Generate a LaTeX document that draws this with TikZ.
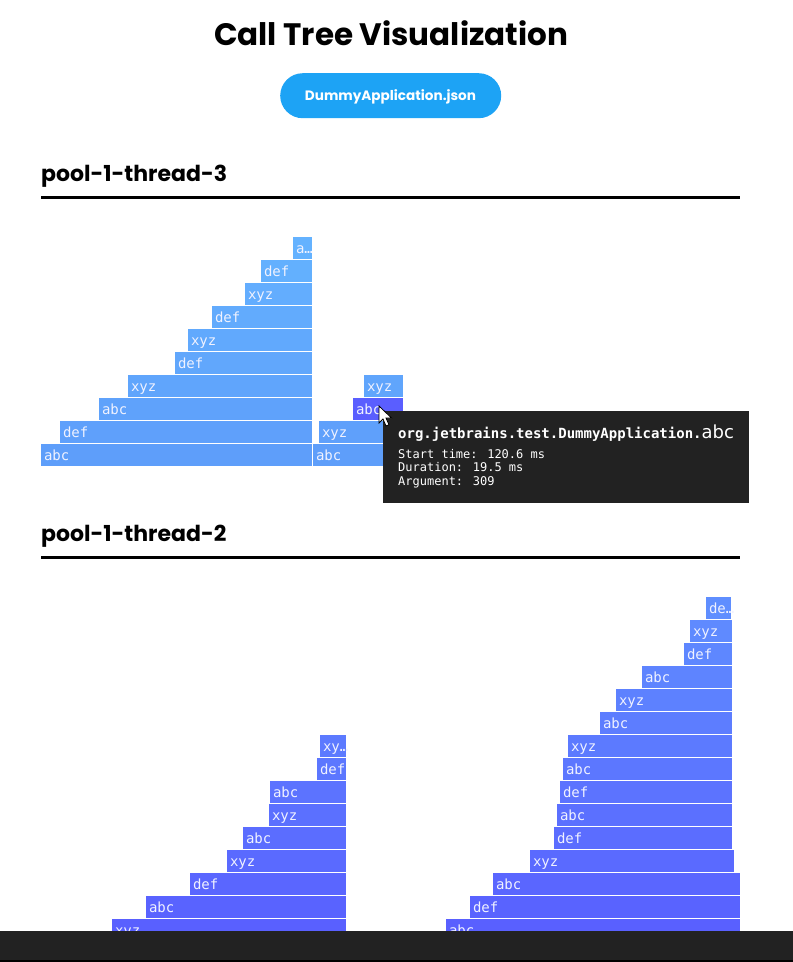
\documentclass[tikz,border=0pt]{standalone}
\usepackage{fontspec}
\newfontfamily\monofont{DejaVu Sans Mono}
\newfontfamily\tipsans{DejaVu Sans}
\newfontfamily\headfont{Poppins}
\definecolor{tA}{RGB}{100,178,255}
\definecolor{bA}{RGB}{94,158,250}
\definecolor{tB}{RGB}{95,142,255}
\definecolor{bB}{RGB}{89,96,255}
\definecolor{hiC}{RGB}{90,94,255}
\definecolor{darkbg}{RGB}{34,34,34}
\definecolor{btnC}{RGB}{29,163,245}
\definecolor{lblC}{RGB}{240,242,255}
\tikzset{
  barnode/.style={inner sep=0pt, outer sep=0pt, anchor=north west, text=lblC,
    font=\monofont\fontsize{14}{14}\selectfont},
  headtxt/.style={inner sep=0pt, anchor=base west, font=\headfont\bfseries\fontsize{22}{22}\selectfont},
  rulestyle/.style={line width=3pt, black},
  tiptxt/.style={inner sep=0pt, anchor=base west, text=white, font=\monofont\fontsize{12}{12}\selectfont},
}
\newcommand\barlabel[2]{\hbox to #1pt{\vrule height 16pt depth 6pt width 0pt\hskip3pt #2\hfil}}
\begin{document}
\begin{tikzpicture}[x=1pt,y=-1pt]
\useasboundingbox (0,0) rectangle (793,962);
\fill[white] (0,0) rectangle (793,962);
% title
\node[inner sep=0pt, anchor=base, font=\headfont\bfseries\fontsize{31}{31}\selectfont] (title) at (391,45.7) {Call Tree Visualization};
\node[fill=btnC, rounded corners=22.5pt, minimum width=221pt, minimum height=45pt, inner sep=0pt, anchor=north west] (btn) at (280,73) {};
\node[inner sep=0pt, anchor=base, text=white, font=\headfont\bfseries\fontsize{13.6}{13.6}\selectfont] (btntxt) at (390.5,100.7) {DummyApplication.json};
% section 1
\node[headtxt] (h1) at (41,181) {pool-1-thread-3};
\coordinate (r1a) at (41,197); \coordinate (r1b) at (740,197);
\draw[rulestyle] (r1a) -- (r1b);
\foreach \nm/\xa/\xb/\r/\t in {
  a0/41/312/0/abc, a1/60/312/1/def, a2/99/312/2/abc, a3/128/312/3/xyz, a4/175/312/4/def,
  a5/188/312/5/xyz, a6/212/312/6/def, a7/245/312/7/xyz, a8/261/312/8/def, a9/293/312/9/a…,
  b0/313/403/0/abc, b1/319/403/1/xyz, b3/364/403/3/xyz} {
  \pgfmathsetmacro\w{\xb-\xa}
  \pgfmathtruncatemacro\pp{\r*100/9}
  \node[barnode, fill=tA!\pp!bA] (\nm) at (\xa,{444-23*\r}) {\barlabel{\w}{\t}};
}
\node[barnode, fill=hiC] (b2) at (353,398) {\barlabel{50}{abc}};
% section 2
\node[headtxt] (h2) at (41,541) {pool-1-thread-2};
\coordinate (r2a) at (41,557); \coordinate (r2b) at (740,557);
\draw[rulestyle] (r2a) -- (r2b);
\foreach \nm/\xa/\xb/\r/\t in {
  c0/112/346/0/xyz, c1/146/346/1/abc, c2/190/346/2/def, c3/227/346/3/xyz, c4/243/346/4/abc,
  c5/269/346/5/xyz, c6/270/346/6/abc, c7/317/346/7/def, c8/320/346/8/xy…,
  d0/446/740/0/abc, d1/470/740/1/def, d2/493/740/2/abc, d3/530/734/3/xyz, d4/554/732/4/def,
  d5/557/732/5/abc, d6/560/732/6/def, d7/563/732/7/abc, d8/568/732/8/xyz, d9/600/732/9/abc,
  d10/616/732/10/xyz, d11/642/732/11/abc, d12/684/732/12/def, d13/690/732/13/xyz, d14/706/731/14/de…} {
  \pgfmathsetmacro\w{\xb-\xa}
  \pgfmathtruncatemacro\pp{\r*100/14}
  \node[barnode, fill=tB!\pp!bB] (\nm) at (\xa,{919-23*\r}) {\barlabel{\w}{\t}};
}
% tooltip
\node[fill=darkbg, inner sep=0pt, minimum width=366pt, minimum height=92pt, anchor=north west] (tip) at (383,411) {};
\node[inner sep=0pt, anchor=base west, text=white] (tiptitle) at (398,438)
  {\monofont\bfseries\fontsize{14}{14}\selectfont org.jetbrains.test.DummyApplication.\tipsans\mdseries\fontsize{18}{18}\selectfont abc};
\node[tiptxt] (tip1) at (398,458) {Start time: 120.6 ms};
\node[tiptxt] (tip2) at (398,471.5) {Duration: 19.5 ms};
\node[tiptxt] (tip3) at (398,485) {Argument: 309};
% cursor
\draw[fill=white, draw=black, line width=0.8pt, line join=miter]
  (379,406) -- ++(0,17) -- ++(4,-4) -- ++(3,7) -- ++(3,-1.3) -- ++(-3,-6.7) -- ++(5.5,0) -- cycle;
% bottom bar
\fill[darkbg] (0,931) rectangle (793,960);
\fill[black] (0,960) rectangle (793,962);
\end{tikzpicture}
\end{document}
